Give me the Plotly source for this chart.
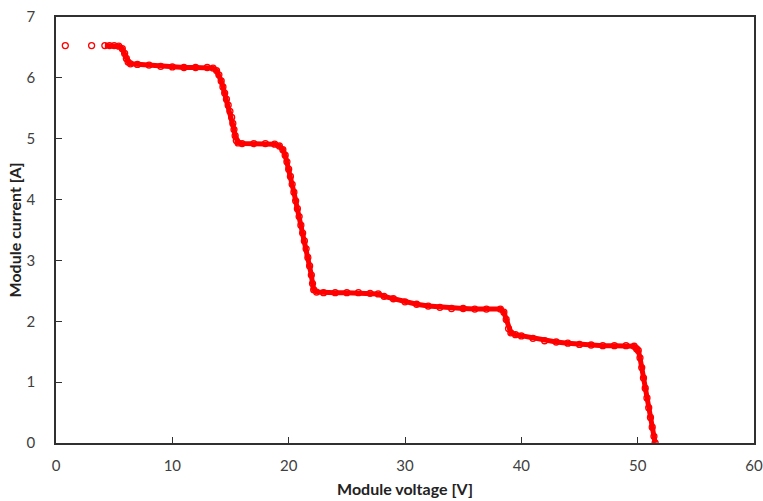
import plotly.graph_objects as go

voltage = [0.80, 3.06,
           4.2, 4.6, 5.0, 5.4, 5.7, 5.9, 6.05, 6.2, 6.4, 7.0, 8.0, 9.0, 10.0, 11.0, 12.0, 13.0, 13.5,
           13.8, 14.0, 14.2, 14.35, 14.5, 14.65, 14.8, 14.95, 15.1, 15.2, 15.3, 15.4, 15.5, 15.65,
           16.0, 17.0, 18.0, 18.8, 19.2, 19.5, 19.7, 19.85, 20.0, 20.15, 20.3, 20.45, 20.6, 20.75,
           20.9, 21.05, 21.2, 21.35, 21.5, 21.65, 21.8, 21.95, 22.05, 22.15, 22.4,
           23.0, 24.0, 25.0, 26.0, 27.0, 27.7, 28.2, 29.0, 30.0, 31.0, 32.0, 33.0, 34.0, 35.0,
           36.0, 37.0, 38.2, 38.5, 38.7, 38.9, 39.1, 39.5, 40.0, 41.0, 42.0, 43.0, 44.0, 45.0,
           46.0, 47.0, 48.0, 49.0, 49.7, 49.9, 50.05, 50.2, 50.35, 50.5, 50.65, 50.8, 50.95,
           51.1, 51.25, 51.4, 51.5]
current = [6.53, 6.53,
           6.53, 6.53, 6.53, 6.52, 6.48, 6.40, 6.32, 6.26, 6.23, 6.22, 6.21, 6.19, 6.18, 6.17, 6.17, 6.17, 6.16,
           6.12, 6.05, 5.95, 5.85, 5.75, 5.65, 5.55, 5.45, 5.35, 5.25, 5.15, 5.05, 4.97, 4.93,
           4.92, 4.92, 4.92, 4.91, 4.88, 4.82, 4.73, 4.62, 4.50, 4.38, 4.25, 4.12, 3.98, 3.85,
           3.72, 3.58, 3.45, 3.32, 3.19, 3.05, 2.91, 2.76, 2.62, 2.52, 2.48,
           2.47, 2.47, 2.47, 2.47, 2.46, 2.45, 2.41, 2.37, 2.32, 2.28, 2.25, 2.23, 2.21, 2.21,
           2.20, 2.20, 2.20, 2.15, 2.03, 1.88, 1.81, 1.78, 1.76, 1.72, 1.68, 1.66, 1.64, 1.62,
           1.61, 1.60, 1.60, 1.60, 1.59, 1.55, 1.52, 1.40, 1.24, 1.07, 0.90, 0.74, 0.58,
           0.42, 0.26, 0.11, 0.0]

x_ticks = [0, 10, 20, 30, 40, 50, 60]
y_ticks = [0, 1, 2, 3, 4, 5, 6, 7]

RED = "#ff0000"
FONT = "Lato, Open Sans, sans-serif"

fig = go.Figure()
# continuous trail of the dense sweep (skip the two isolated first samples)
fig.add_trace(go.Scatter(
    x=voltage[2:], y=current[2:], mode="lines",
    line=dict(color=RED, width=5), hoverinfo="skip", showlegend=False,
))
fig.add_trace(go.Scatter(
    x=voltage, y=current, mode="markers",
    marker=dict(symbol="circle-open", size=6, color=RED, line=dict(width=1.3, color=RED)),
    showlegend=False,
))

axis_common = dict(
    showgrid=False, zeroline=False, showline=True, linecolor="#303030", linewidth=1.5,
    mirror=True, ticks="inside", ticklen=6, tickwidth=1, tickcolor="#303030",
    automargin=False, ticklabeloverflow="allow",
    tickfont=dict(family=FONT, size=15, color="#404040"),
)

fig.update_layout(
    width=763, height=501,
    margin=dict(l=56, r=9, t=17, b=58),
    paper_bgcolor="white", plot_bgcolor="white",
    xaxis=dict(range=[0, 60], tickvals=x_ticks, ticklabelstandoff=8,
               title=dict(text="<b>Module voltage [V]</b>", standoff=11,
                          font=dict(family=FONT, size=16, color="#222222")),
               **axis_common),
    yaxis=dict(range=[0, 7], tickvals=y_ticks, ticklabelstandoff=16,
               title=dict(text="<b>Module current [A]</b>", standoff=1,
                          font=dict(family=FONT, size=16, color="#222222")),
               **axis_common),
)

# remove the default page margin so the figure fills the window exactly
fig.write_html("out.html", config={"displayModeBar": False},
               post_script="document.body.style.margin='0';document.body.style.overflow='hidden';")
